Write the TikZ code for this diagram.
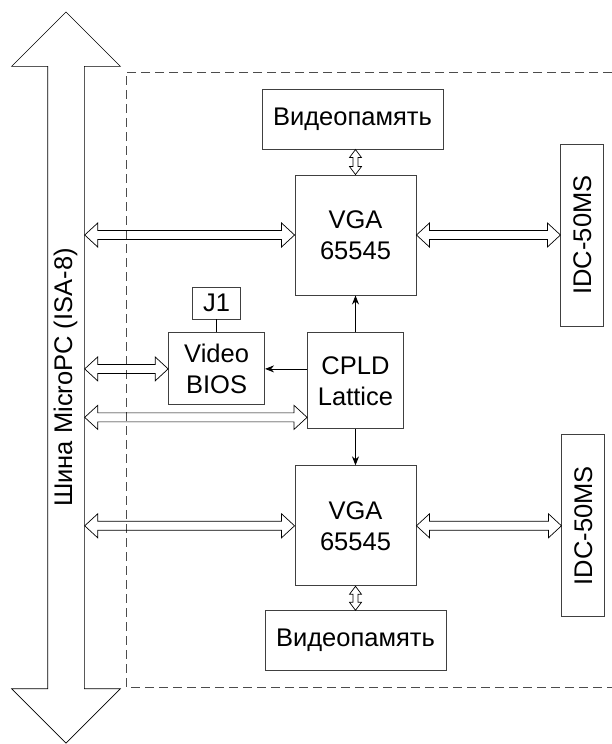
\documentclass[tikz,border=0pt]{standalone}
\usepackage{fontspec}
\setmainfont{Liberation Sans}
\usepackage{graphicx}
\usetikzlibrary{arrows.meta,positioning,shapes.arrows,calc}
\tikzset{
  blk/.style={rectangle, draw=black!75, line width=0.9pt, align=center,
              font=\fontsize{25.5}{31}\selectfont, inner sep=0pt},
  mem/.style={blk, minimum width=181pt, minimum height=60pt},
  vga/.style={blk, minimum width=121pt, minimum height=120pt},
  conn/.style={blk, minimum width=43pt, minimum height=182pt},
  bus/.style={double arrow, draw, line width=0.7pt, rotate=90,
              font=\fontsize{25.5}{31}\selectfont, text height=17pt,
              text depth=5pt, inner ysep=7pt, inner xsep=0pt,
              minimum height=731pt, double arrow head extend=36pt,
              double arrow tip angle=90},
  frame/.style={dash pattern=on 9pt off 5pt, draw=black!70, line width=0.8pt},
  arrow/.style={-{Stealth[length=9pt,width=7pt]}, line width=0.8pt},
  hbus/.style={draw, line width=0.7pt, to path={
      let \p1=(\tikztostart), \p2=(\tikztotarget) in
      (\x1,\y1) -- (\x1+13pt,\y1+12pt) -- (\x1+13pt,\y1+4.5pt)
      -- (\x2-13pt,\y1+4.5pt) -- (\x2-13pt,\y1+12pt) -- (\x2,\y1)
      -- (\x2-13pt,\y1-12pt) -- (\x2-13pt,\y1-4.5pt)
      -- (\x1+13pt,\y1-4.5pt) -- (\x1+13pt,\y1-12pt) -- cycle}},
  vbus/.style={draw, line width=0.7pt, to path={
      let \p1=(\tikztostart), \p2=(\tikztotarget) in
      (\x1,\y1) -- (\x1+6pt,\y1-8pt) -- (\x1+2.5pt,\y1-8pt)
      -- (\x1+2.5pt,\y2+8pt) -- (\x1+6pt,\y2+8pt) -- (\x1,\y2)
      -- (\x1-6pt,\y2+8pt) -- (\x1-2.5pt,\y2+8pt)
      -- (\x1-2.5pt,\y1-8pt) -- (\x1-6pt,\y1-8pt) -- cycle}}
}

\begin{document}
\begin{tikzpicture}[x=1pt, y=-1pt]
  \useasboundingbox (0,0) rectangle (612,744);
  % board outline
  \draw[frame] (612,72) -- (126,72) -- (126,687) -- (612,687);
  \node[bus] (bus) at (66,377.5) {Шина MicroPC (ISA-8)};
  \node[vga] (vga1) at (355.5,235) {VGA\\65545};
  \node[mem, above=25pt of vga1, xshift=-3pt] (mem1) {Видеопамять};
  \node[blk, minimum width=96pt, minimum height=96pt, below=37pt of vga1] (cpld) {CPLD\\Lattice};
  \node[blk, minimum width=96pt, minimum height=72pt,
        left=42pt of cpld.north west, anchor=north east] (bios) {Video\\BIOS};
  \node[blk, minimum width=48pt, minimum height=32pt, above=13pt of bios] (j1) {J1};
  \node[vga, below=36pt of cpld] (vga2) {VGA\\65545};
  \node[mem, below=24pt of vga2] (mem2) {Видеопамять};
  \node[conn, right=144pt of vga1] (idc1) {\rotatebox{90}{IDC-50MS}};
  \node[conn, right=145pt of vga2] (idc2) {\rotatebox{90}{IDC-50MS}};
  \coordinate (cpldin) at ([yshift=12pt]cpld.south west);
  % buses
  \draw[hbus] (bus.south |- vga1.west) to (vga1.west);
  \draw[hbus] (bus.south |- bios.west) to (bios.west);
  \draw[hbus] (bus.south |- cpldin) to (cpldin);
  \draw[hbus] (bus.south |- vga2.west) to (vga2.west);
  \draw[hbus] (vga1.east) to (idc1.west);
  \draw[hbus] (vga2.east) to (idc2.west);
  \draw[vbus] (vga1.north |- mem1.south) to (vga1.north);
  \draw[vbus] (vga2.south) to (vga2.south |- mem2.north);
  % control lines
  \draw (j1.south) -- (bios.north);
  \draw[arrow] (cpld.west |- bios.east) -- (bios.east);
  \draw[arrow] (cpld.north) -- (vga1.south);
  \draw[arrow] (cpld.south) -- (vga2.north);
\end{tikzpicture}
\end{document}
